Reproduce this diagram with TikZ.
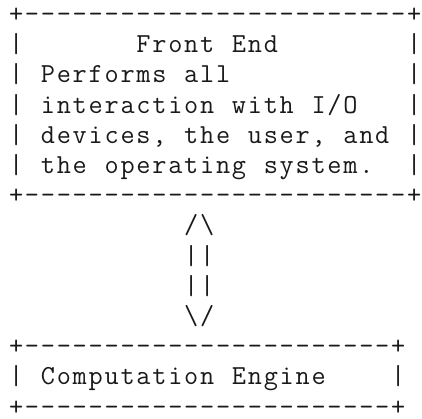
\documentclass[tikz,border=0pt]{standalone}
\usepackage{fontspec}
\makeatletter
\newcommand\gridtext[1]{\@tfor\gch:=#1\do{\makebox[15.92pt][c]{\gch}}}
\makeatother
\begin{document}
\begin{tikzpicture}[x=1pt,y=1pt,
  asc/.style={anchor=base west, inner sep=0pt, text=black!90,
    font=\ttfamily\fontsize{27.5}{30}\selectfont}]
\useasboundingbox (0,0) rectangle (422,418);
\def\lh{30.2}
\def\top{395.5}
% Front End box
\node[asc] (l1)  at (8,\top)            {\gridtext{+------------------------+}};
\node[asc] (l2)  at (8,\top-1*\lh)      {\gridtext{|~~~~~~~Front~End~~~~~~~~|}};
\node[asc] (l3)  at (8,\top-2*\lh)      {\gridtext{|~Performs~all~~~~~~~~~~~|}};
\node[asc] (l4)  at (8,\top-3*\lh)      {\gridtext{|~interaction~with~I/O~~~|}};
\node[asc] (l5)  at (8,\top-4*\lh)      {\gridtext{|~devices,~the~user,~and~|}};
\node[asc] (l6)  at (8,\top-5*\lh)      {\gridtext{|~the~operating~system.~~|}};
\node[asc] (l7)  at (8,\top-6*\lh)      {\gridtext{+------------------------+}};
% arrow
\node[asc] (a1)  at (8+11*15.92,\top-7*\lh)  {\gridtext{/\textbackslash}};
\node[asc] (a2)  at (8+11*15.92,\top-8*\lh)  {\gridtext{||}};
\node[asc] (a3)  at (8+11*15.92,\top-9*\lh)  {\gridtext{||}};
\node[asc] (a4)  at (8+11*15.92,\top-10*\lh) {\gridtext{\textbackslash/}};
% Computation Engine box
\node[asc] (b1)  at (8,\top-11*\lh)     {\gridtext{+-----------------------+}};
\node[asc] (b2)  at (8,\top-12*\lh)     {\gridtext{|~Computation~Engine~~~~|}};
\node[asc] (b3)  at (8,\top-13*\lh)     {\gridtext{+-----------------------+}};
\end{tikzpicture}
\end{document}
